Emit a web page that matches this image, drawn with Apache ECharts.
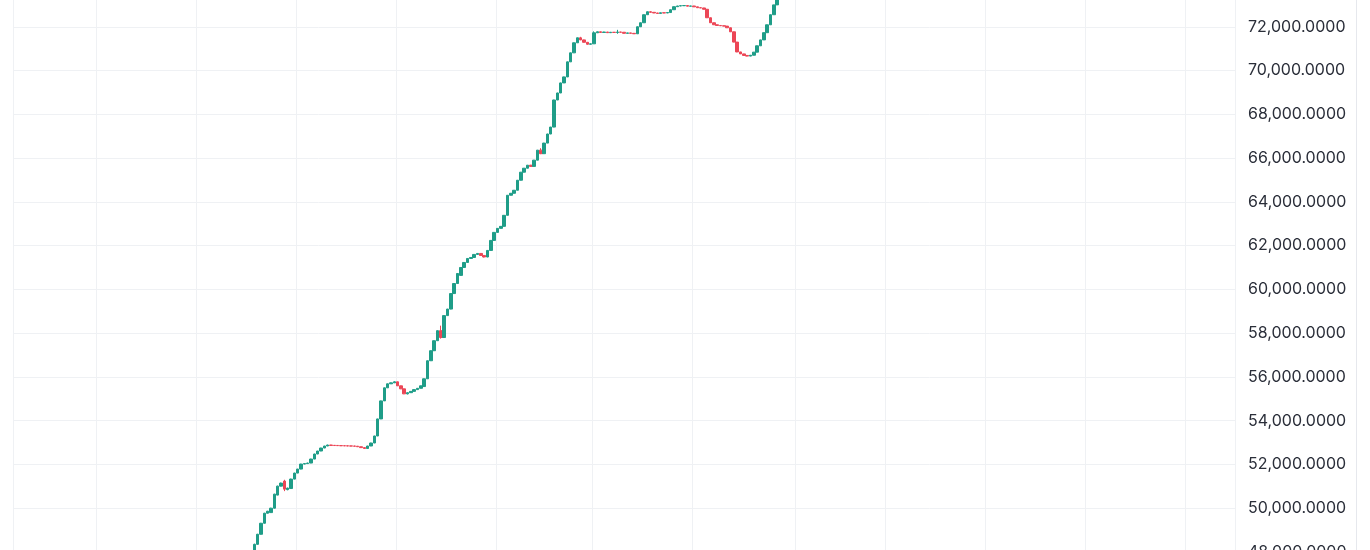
<!DOCTYPE html>
<html>
<head>
<meta charset="utf-8">
<title>candles</title>
<script src="https://cdn.jsdelivr.net/npm/echarts@6/dist/echarts.min.js"></script>
<style>
  html, body { margin: 0; padding: 0; background: #fff; }
  #chart { width: 1370px; height: 550px; }
</style>
</head>
<body>
<div id="chart"></div>
<script>
// slot count of the x axis (one slot per candle)
const slotCount = 367;
// slot of the first candle below
const firstSlot = 71;
// slots where the vertical grid lines sit
const gridSlots = [0, 25, 55, 85, 115, 145, 174, 204, 235, 262, 292, 322, 352];

// y axis ticks
const priceMin = 48000;
const priceMax = 74000;
const priceStep = 2000;

// [open, close, low, high]
const candles = [
  [47600, 48050, 47550, 48080],
  [48050, 48350, 48000, 48380],
  [48350, 48810, 48330, 48830],
  [48810, 49314, 48800, 49330],
  [49314, 49772, 49300, 49790],
  [49772, 49864, 49760, 49880],
  [49800, 50002, 49790, 50020],
  [50002, 50644, 49990, 50660],
  [50600, 51010, 50590, 51030],
  [51010, 51148, 51000, 51170],
  [51240, 50873, 50781, 51300],
  [50850, 50920, 50820, 50940],
  [50900, 51331, 50890, 51350],
  [51331, 51606, 51320, 51620],
  [51606, 51789, 51600, 51800],
  [51789, 52018, 51780, 52030],
  [52018, 52040, 52010, 52050],
  [52040, 52064, 52030, 52080],
  [52064, 52247, 52060, 52260],
  [52247, 52477, 52240, 52490],
  [52477, 52614, 52470, 52620],
  [52614, 52751, 52610, 52760],
  [52751, 52843, 52745, 52850],
  [52843, 52889, 52840, 52900],
  [52889, 52870, 52860, 52895],
  [52875, 52865, 52860, 52885],
  [52870, 52860, 52855, 52880],
  [52862, 52855, 52850, 52870],
  [52858, 52850, 52845, 52865],
  [52852, 52845, 52840, 52860],
  [52848, 52840, 52835, 52855],
  [52842, 52835, 52830, 52850],
  [52835, 52810, 52805, 52840],
  [52810, 52770, 52765, 52815],
  [52770, 52730, 52720, 52775],
  [52730, 52843, 52725, 52850],
  [52843, 52980, 52840, 52990],
  [52980, 53301, 52975, 53310],
  [53301, 54080, 53295, 54090],
  [54080, 54905, 54075, 54915],
  [54905, 55501, 54900, 55510],
  [55501, 55685, 55495, 55695],
  [55685, 55730, 55680, 55740],
  [55730, 55776, 55725, 55800],
  [55776, 55593, 55585, 55785],
  [55593, 55455, 55445, 55600],
  [55455, 55226, 55215, 55460],
  [55226, 55280, 55200, 55290],
  [55280, 55340, 55275, 55350],
  [55340, 55420, 55335, 55430],
  [55420, 55480, 55415, 55490],
  [55480, 55593, 55475, 55600],
  [55560, 55914, 55550, 55925],
  [55914, 56739, 55910, 56750],
  [56739, 57197, 56730, 57210],
  [57197, 57655, 57190, 57665],
  [57655, 58114, 57650, 58125],
  [58114, 57800, 57750, 58343],
  [57800, 58801, 57790, 58810],
  [58801, 59100, 58790, 59110],
  [59100, 59809, 59090, 59820],
  [59809, 60268, 59800, 60280],
  [60268, 60726, 60260, 60735],
  [60640, 61001, 60630, 61010],
  [61001, 61230, 60995, 61240],
  [61230, 61413, 61225, 61420],
  [61413, 61459, 61410, 61470],
  [61459, 61597, 61455, 61605],
  [61597, 61643, 61590, 61660],
  [61643, 61551, 61540, 61655],
  [61551, 61480, 61460, 61560],
  [61480, 61780, 61470, 61790],
  [61780, 62238, 61775, 62250],
  [62238, 62605, 62230, 62615],
  [62605, 62788, 62600, 62795],
  [62788, 62880, 62780, 62890],
  [62880, 63384, 62875, 63395],
  [63384, 64301, 63380, 64310],
  [64301, 64392, 64295, 64400],
  [64392, 64530, 64385, 64540],
  [64530, 64988, 64525, 64995],
  [64988, 65355, 64980, 65365],
  [65355, 65538, 65350, 65545],
  [65538, 65675, 65530, 65685],
  [65675, 65620, 65610, 65690],
  [65620, 65905, 65615, 65915],
  [65905, 66363, 65900, 66370],
  [66363, 66200, 66180, 66450],
  [66200, 66684, 66190, 66695],
  [66684, 67100, 66680, 67110],
  [67100, 67417, 67095, 67425],
  [67417, 68654, 67410, 68665],
  [68654, 68975, 68650, 68985],
  [68975, 69434, 68970, 69445],
  [69434, 69709, 69430, 69720],
  [69709, 70396, 69700, 70405],
  [70396, 70808, 70390, 70815],
  [70808, 71267, 70800, 71275],
  [71267, 71496, 71260, 71505],
  [71496, 71400, 71390, 71540],
  [71400, 71290, 71280, 71410],
  [71290, 71200, 71190, 71300],
  [71200, 71221, 71190, 71230],
  [71221, 71725, 71215, 71790],
  [71725, 71771, 71720, 71780],
  [71771, 71740, 71735, 71780],
  [71740, 71760, 71735, 71770],
  [71760, 71730, 71725, 71765],
  [71730, 71750, 71725, 71755],
  [71750, 71740, 71735, 71760],
  [71740, 71760, 71680, 71860],
  [71760, 71750, 71745, 71765],
  [71750, 71700, 71695, 71755],
  [71700, 71720, 71695, 71725],
  [71720, 71700, 71695, 71725],
  [71700, 71679, 71670, 71705],
  [71679, 72000, 71675, 72010],
  [72000, 72183, 71995, 72190],
  [72183, 72550, 72180, 72560],
  [72550, 72687, 72545, 72695],
  [72687, 72660, 72650, 72710],
  [72660, 72630, 72625, 72665],
  [72630, 72610, 72605, 72635],
  [72610, 72640, 72605, 72645],
  [72640, 72630, 72625, 72645],
  [72630, 72650, 72625, 72655],
  [72650, 72779, 72645, 72785],
  [72779, 72917, 72775, 72925],
  [72917, 72950, 72910, 72955],
  [72950, 72962, 72945, 72970],
  [72962, 72970, 72955, 72980],
  [72970, 72940, 72935, 72975],
  [72940, 72950, 72935, 72955],
  [72950, 72910, 72905, 72955],
  [72910, 72871, 72865, 72915],
  [72871, 72860, 72855, 72875],
  [72860, 72800, 72795, 72865],
  [72800, 72412, 72400, 72805],
  [72412, 72183, 72175, 72420],
  [72183, 72092, 72085, 72190],
  [72092, 72060, 72055, 72095],
  [72060, 72046, 72040, 72065],
  [72046, 72030, 72025, 72050],
  [72030, 71954, 71950, 72035],
  [71954, 71770, 71765, 71960],
  [71770, 71300, 71290, 71775],
  [71300, 70850, 70840, 71305],
  [70850, 70760, 70755, 70855],
  [70760, 70690, 70685, 70765],
  [70690, 70660, 70650, 70695],
  [70660, 70700, 70655, 70705],
  [70700, 70840, 70695, 70845],
  [70840, 71130, 70835, 71135],
  [71130, 71400, 71125, 71405],
  [71400, 71730, 71395, 71735],
  [71730, 72090, 71725, 72095],
  [72090, 72550, 72085, 72555],
  [72550, 73000, 72545, 73005],
  [73000, 73450, 72995, 73460],
];

const upColor = "#1f9d88";
const downColor = "#ec4656";

const slots = [];
for (let i = 0; i < slotCount; i++) slots.push(String(i));

const seriesData = candles.map((c, k) => [firstSlot + k, c[0], c[1], c[2], c[3]]);

const chart = echarts.init(document.getElementById("chart"), null, { renderer: "canvas" });

const option = {
  animation: false,
  backgroundColor: "#ffffff",
  grid: {
    left: 13,
    right: 135,
    top: -17,
    bottom: -2,
    containLabel: false,
    outerBoundsMode: "none",
  },
  xAxis: {
    type: "category",
    data: slots,
    boundaryGap: true,
    axisLine: { show: false },
    axisTick: { show: false },
    axisLabel: { show: false },
    splitLine: {
      show: true,
      interval: (index) => gridSlots.includes(index),
      lineStyle: { color: "#eff1f4", width: 1 },
    },
  },
  yAxis: {
    type: "value",
    position: "right",
    min: priceMin,
    max: priceMax,
    interval: priceStep,
    axisLine: { show: false },
    axisTick: { show: false },
    axisLabel: {
      margin: 13,
      color: "#2a2e39",
      fontFamily: "Inter",
      fontSize: 16,
      formatter: (v) => v.toLocaleString("en-US", { minimumFractionDigits: 4, maximumFractionDigits: 4 }),
    },
    splitLine: {
      lineStyle: { color: "#eff1f4", width: 1 },
    },
  },
  graphic: [
    {
      type: "line",
      shape: { x1: 1356.5, y1: 0, x2: 1356.5, y2: 550 },
      style: { stroke: "#e6e8ed", lineWidth: 1 },
      silent: true,
    },
  ],
  series: [
    {
      type: "candlestick",
      data: seriesData,
      encode: { x: 0, y: [1, 2, 3, 4] },
      barWidth: 3,
      itemStyle: {
        color: upColor,
        color0: downColor,
        borderColor: upColor,
        borderColor0: downColor,
        borderWidth: 1,
      },
    },
  ],
};

chart.setOption(option);
</script>
</body>
</html>
